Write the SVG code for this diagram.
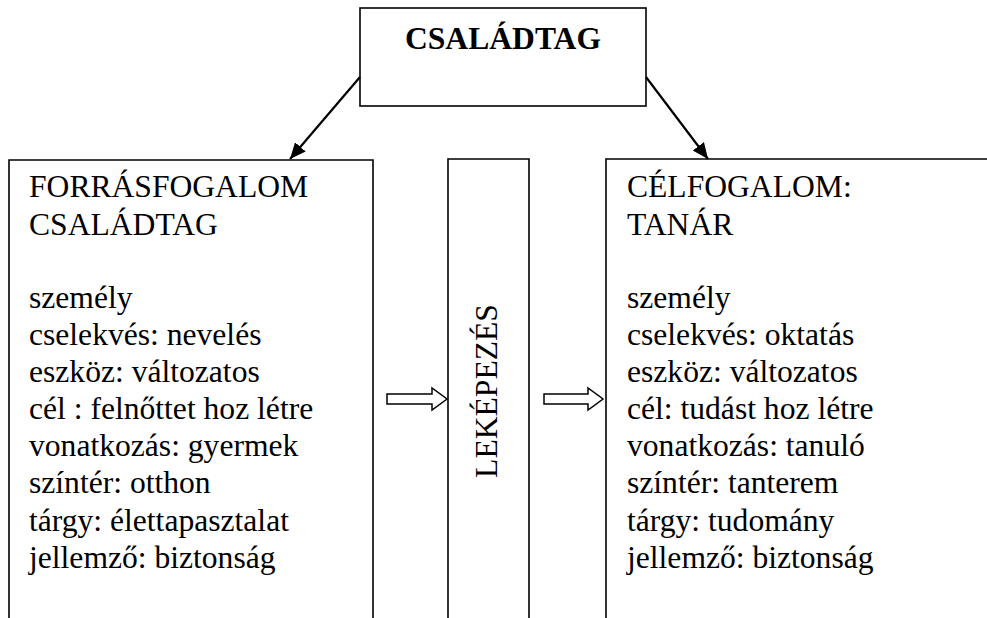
<svg xmlns="http://www.w3.org/2000/svg" width="987" height="618" viewBox="0 0 987 618">
<defs>
<style>
.box{fill:none;stroke:#000;stroke-width:1.6}
.t{font-family:"Liberation Serif","Times New Roman",serif;font-size:31.6px;fill:#000}
.b{font-weight:bold}
.conn{stroke:#000;stroke-width:2.2;fill:none}
.hollow{fill:#fff;stroke:#000;stroke-width:1.5}
</style>
<marker id="ah" markerUnits="userSpaceOnUse" markerWidth="18" markerHeight="16" refX="16" refY="7" orient="auto">
<path d="M0,0 L16,7 L0,14 Z" fill="#000"/>
</marker>
</defs>
<rect width="987" height="618" fill="#fff"/>
<g id="top-node">
<rect class="box" x="360" y="8" width="286" height="98"/>
<text class="t b" x="503" y="49" text-anchor="middle">CSALÁDTAG</text>
</g>
<g id="left-node">
<path class="box" d="M9,620 V160 H373 V620"/>
<text class="t" x="29" y="197">FORRÁSFOGALOM</text>
<text class="t" x="29" y="235">CSALÁDTAG</text>
<text class="t" x="29" y="308">személy</text>
<text class="t" x="29" y="345">cselekvés: nevelés</text>
<text class="t" x="29" y="382">eszköz: változatos</text>
<text class="t" x="29" y="419">cél : felnőttet hoz létre</text>
<text class="t" x="29" y="456">vonatkozás: gyermek</text>
<text class="t" x="29" y="493">színtér: otthon</text>
<text class="t" x="29" y="531">tárgy: élettapasztalat</text>
<text class="t" x="29" y="568">jellemző: biztonság</text>
</g>
<g id="middle-node">
<path class="box" d="M448,620 V159 H529 V620"/>
<text class="t" transform="translate(497,391) rotate(-90)" text-anchor="middle">LEKÉPEZÉS</text>
</g>
<g id="right-node">
<path class="box" d="M606,620 V159 H995"/>
<text class="t" x="627" y="197">CÉLFOGALOM:</text>
<text class="t" x="627" y="235">TANÁR</text>
<text class="t" x="627" y="308">személy</text>
<text class="t" x="627" y="345">cselekvés: oktatás</text>
<text class="t" x="627" y="382">eszköz: változatos</text>
<text class="t" x="627" y="419">cél: tudást hoz létre</text>
<text class="t" x="627" y="456">vonatkozás: tanuló</text>
<text class="t" x="627" y="493">színtér: tanterem</text>
<text class="t" x="627" y="531">tárgy: tudomány</text>
<text class="t" x="627" y="568">jellemző: biztonság</text>
</g>
<g id="connectors">
<line class="conn" x1="360" y1="77" x2="290" y2="159" marker-end="url(#ah)"/>
<line class="conn" x1="646" y1="77" x2="708" y2="159" marker-end="url(#ah)"/>
<polygon class="hollow" points="387,394 432,394 432,388 447,399 432,410 432,404 387,404"/>
<polygon class="hollow" points="544,394 588,394 588,388 603,399 588,410 588,404 544,404"/>
</g>
</svg>
